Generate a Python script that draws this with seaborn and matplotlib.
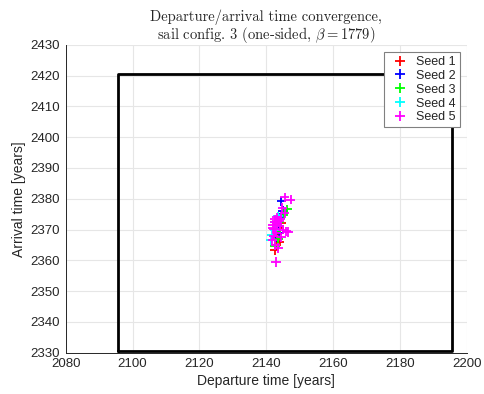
import numpy as np
import pandas as pd
import matplotlib
matplotlib.use("Agg")
import matplotlib.pyplot as plt
import seaborn as sns

# ---- data ----
seed1_dep = [2144.0, 2142.5, 2143.2, 2143.8, 2142.8, 2144.5, 2143.0]
seed1_arr = [2366.0, 2363.3, 2368.5, 2370.5, 2365.0, 2372.0, 2367.2]
seed2_dep = [2144.5, 2143.5, 2144.2, 2142.9, 2145.0, 2143.8]
seed2_arr = [2379.1, 2371.0, 2374.0, 2367.5, 2376.0, 2369.0]
seed3_dep = [2146.3, 2144.0, 2143.0, 2145.2, 2143.6, 2142.6]
seed3_arr = [2376.5, 2372.5, 2369.5, 2374.8, 2366.8, 2364.8]
seed4_dep = [2143.5, 2141.6, 2141.4, 2142.5, 2143.2, 2142.6, 2144.0]
seed4_arr = [2374.3, 2368.2, 2366.6, 2372.6, 2371.6, 2369.8, 2373.4]
seed5_dep = [2145.5, 2147.3, 2145.5, 2144.3, 2142.5, 2143.3, 2144.0, 2142.0,
             2145.0, 2146.5, 2146.0, 2143.0, 2142.2, 2141.8, 2142.7, 2143.6,
             2144.4, 2142.9, 2143.8, 2142.3, 2141.9, 2144.8, 2142.6, 2143.2]
seed5_arr = [2380.5, 2379.7, 2375.4, 2373.5, 2372.5, 2371.8, 2371.0, 2370.5,
             2370.0, 2369.2, 2369.4, 2369.0, 2368.0, 2366.5, 2365.0, 2364.0,
             2367.5, 2359.5, 2372.8, 2370.2, 2371.6, 2377.0, 2373.3, 2374.0]
seed_names = ["Seed 1", "Seed 2", "Seed 3", "Seed 4", "Seed 5"]
seed_colors = ["#ff0000", "#0000ff", "#00ff00", "#00ffff", "#ff00ff"]

box_dep = [2095.5, 2195.5, 2195.5, 2095.5, 2095.5]
box_arr = [2330.5, 2330.5, 2420.5, 2420.5, 2330.5]

x_ticks = [2080, 2100, 2120, 2140, 2160, 2180, 2200]
y_ticks = [2330, 2340, 2350, 2360, 2370, 2380, 2390, 2400, 2410, 2420, 2430]

title_text = "Departure/arrival time convergence,\nsail config. 3 (one-sided, $\\beta = 1779$)"
x_label = "Departure time [years]"
y_label = "Arrival time [years]"

# ---- build frame ----
deps = [seed1_dep, seed2_dep, seed3_dep, seed4_dep, seed5_dep]
arrs = [seed1_arr, seed2_arr, seed3_arr, seed4_arr, seed5_arr]
rows = []
for name, d, a in zip(seed_names, deps, arrs):
    for xi, yi in zip(d, a):
        rows.append({"dep": xi, "arr": yi, "seed": name})
df = pd.DataFrame(rows)
box_df = pd.DataFrame({"dep": box_dep, "arr": box_arr})

sns.set_style("whitegrid")
plt.rcParams["font.family"] = ["Liberation Sans", "DejaVu Sans"]
plt.rcParams["mathtext.fontset"] = "cm"

fig = plt.figure(figsize=(4.84, 3.94), dpi=100)
ax = fig.add_axes([0.1357, 0.1048, 0.965 - 0.1357, 0.8865 - 0.1048])

sns.lineplot(data=box_df, x="dep", y="arr", sort=False, estimator=None,
             color="black", linewidth=2.0, ax=ax, legend=False)
sns.scatterplot(data=df, x="dep", y="arr", hue="seed", hue_order=seed_names,
                palette=seed_colors, marker="+", s=45, linewidth=1.3, ax=ax)

ax.set_xlim(2080, 2200)
ax.set_ylim(2330, 2430)
ax.set_xticks(x_ticks)
ax.set_yticks(y_ticks)
ax.tick_params(axis="both", labelsize=9.5, direction="in", length=3,
               color="#262626", labelcolor="#262626")
ax.tick_params(axis="x", pad=4)
ax.tick_params(axis="y", pad=4)
ax.grid(True, color="#e6e6e6", linewidth=0.8)
for s in ["top", "right"]:
    ax.spines[s].set_visible(False)
for s in ["left", "bottom"]:
    ax.spines[s].set_color("#262626")
    ax.spines[s].set_linewidth(0.7)
ax.set_xlabel(x_label, fontsize=10, color="#262626", labelpad=3)
ax.set_ylabel(y_label, fontsize=10, color="#262626", labelpad=3)
ax.set_title(title_text, fontsize=10.5, family="cmr10", pad=4, linespacing=1.0)

leg = ax.legend(loc="upper right", fontsize=9, frameon=True, fancybox=False,
                edgecolor="#808080", framealpha=1, borderpad=0.3,
                handletextpad=0.3, labelspacing=0.15, handlelength=2.0,
                borderaxespad=0.6)
leg.get_frame().set_linewidth(0.8)
for h in leg.legend_handles:
    h.set_linewidth(1.3)

fig.savefig("out.png", dpi=100)
